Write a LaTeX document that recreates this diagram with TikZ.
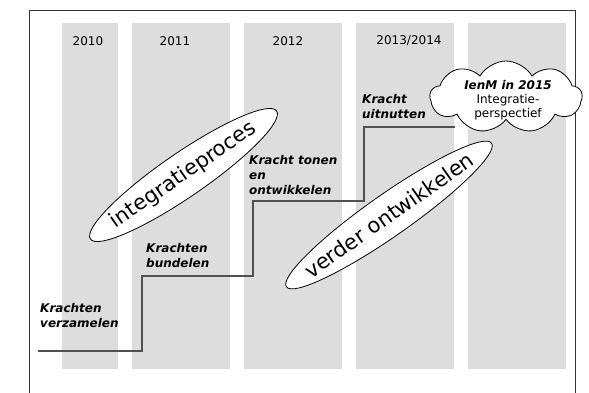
\documentclass[tikz,border=0pt]{standalone}
\usepackage{fontspec}
\setmainfont{DejaVu Sans}
\usetikzlibrary{positioning,shapes.geometric,shapes.symbols}
\definecolor{ColGray}{HTML}{DDDDDD}
\definecolor{StairGray}{HTML}{505050}

\begin{document}
\begin{tikzpicture}[x=1pt, y=-1pt,
  col/.style={fill=ColGray, draw=none},
  year/.style={font=\fontsize{12}{15}\selectfont, inner sep=0pt},
  stage/.style={font=\fontsize{12}{15}\selectfont\bfseries\itshape, align=left, anchor=north west, inner sep=0pt},
  stair/.style={draw=StairGray, line width=1.3pt},
  phase/.style={ellipse, draw, fill=white, line width=0.8pt, font=\fontsize{21}{24}\selectfont, inner xsep=-8pt, inner ysep=0pt, minimum width=226pt, minimum height=44pt},
  wolk/.style={cloud, cloud puffs=9, cloud puff arc=120, cloud ignores aspect, draw, fill=white, line width=0.8pt, inner sep=0pt, minimum width=152pt, minimum height=72pt},
  wolktext/.style={align=center, inner sep=0pt, font=\fontsize{12}{14}\selectfont}
]
\useasboundingbox (0,0) rectangle (589,392);
\clip (0,0) rectangle (589,392);
% frame and year columns
\draw[line width=1pt, draw=black!80] (29,10) rectangle (575,400);
\fill[col] (62,23) rectangle (118,369);
\fill[col] (132,23) rectangle (230,369);
\fill[col] (244,23) rectangle (342,369);
\fill[col] (356,23) rectangle (454,369);
\fill[col] (468,23) rectangle (566,369);
\node[year] (y2010) at (88,41) {2010};
\node[year] (y2011) at (175,41) {2011};
\node[year] (y2012) at (288,41) {2012};
\node[year] (y2013) at (409,41) {2013/2014};

% staircase
\coordinate (s0) at (38,351);
\coordinate (s1) at (142,276);
\coordinate (s2) at (253,201);
\coordinate (s3) at (364,127);
\coordinate (s4) at (455,127);
\draw[stair] (s0) -| (s1) -| (s2) -| (s3) -- (s4);

\node[stage] (verzamelen) at (40,303) {Krachten\\verzamelen};
\node[stage] (bundelen) at (146,243) {Krachten\\bundelen};
\node[stage] (tonen) at (249,155) {Kracht tonen\\en\\ontwikkelen};
\node[stage] (uitnutten) at (362,94) {Kracht\\uitnutten};

% phases
\node[phase, rotate=34.5] (proces) at (183.5,175) {integratieproces};
\node[phase, rotate=35, inner xsep=-12pt, minimum width=235pt, minimum height=42pt] (verder) at (389,215) {verder ontwikkelen};

% cloud
\node[wolk] (ienm) at (506,97) {};
\node[wolktext] (ienmtext) at (508,100) {\textbf{\itshape IenM in 2015}\\Integratie-\\perspectief};
\end{tikzpicture}
\end{document}
